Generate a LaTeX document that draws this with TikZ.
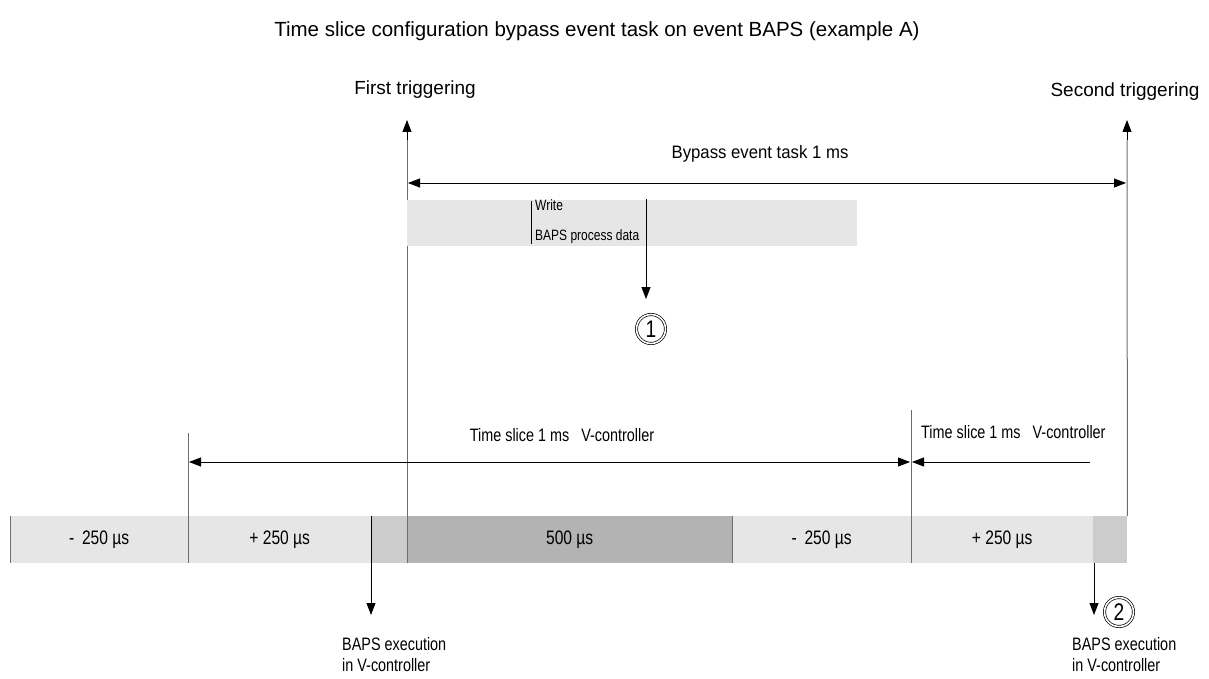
\documentclass[tikz,border=0pt]{standalone}
\usepackage{fontspec}
\setmainfont{Liberation Sans}
\newfontfamily\condfont[FakeStretch=0.8]{Liberation Sans}
\newfontfamily\semicondfont[FakeStretch=0.93]{Liberation Sans}
\usetikzlibrary{arrows.meta}
\definecolor{segLight}{HTML}{E6E6E6}
\definecolor{segMid}{HTML}{CCCCCC}
\definecolor{segDark}{HTML}{B3B3B3}
\definecolor{guide}{HTML}{6E6E6E}
\tikzset{
  seg/.style={draw=none, minimum height=47pt, inner sep=0pt, anchor=north west,
    font=\condfont\fontsize{19.5}{19.5}\selectfont},
  lbl/.style={inner sep=0pt, font=\condfont\fontsize{18}{18}\selectfont},
  small/.style={inner sep=0pt, align=left, font=\condfont\fontsize{18}{21}\selectfont},
  guideline/.style={draw=guide, line width=1pt},
  tip/.style={-{Triangle[length=12pt,width=9pt]}},
  tips/.style={{Triangle[length=12pt,width=9pt]}-{Triangle[length=12pt,width=9pt]}},
  arr/.style={draw=black, line width=0.8pt},
  circled/.style={circle, draw, double, double distance=1.6pt, line width=0.7pt,
    minimum size=29pt, inner sep=0pt, font=\condfont\fontsize{24}{24}\selectfont},
}
\begin{document}
\begin{tikzpicture}[x=1pt,y=-1pt]
\useasboundingbox (0,0) rectangle (1209,679);

% title and trigger labels
\node[inner sep=0pt, anchor=base, font=\fontsize{20.5}{20.5}\selectfont] (title) at (597,37) {Time slice configuration bypass event task on event BAPS (example A)};
\node[inner sep=0pt, anchor=base, font=\fontsize{19}{19}\selectfont] (first) at (415,95) {First triggering};
\node[inner sep=0pt, anchor=base, font=\fontsize{19}{19}\selectfont] (second) at (1125,97) {Second triggering};

% the bar of time segments
\node[seg, fill=segLight, minimum width=178pt] (s1) at (10,516) {-\, 250 µs};
\node[seg, fill=segLight, minimum width=183pt] (s2) at (188,516) {+ 250 µs};
\node[seg, fill=segMid, minimum width=36pt] (s3) at (371,516) {};
\node[seg, fill=segDark, minimum width=325pt] (s4) at (407,516) {500 µs};
\node[seg, fill=segLight, minimum width=179pt] (s5) at (732,516) {-\, 250 µs};
\node[seg, fill=segLight, minimum width=182pt] (s6) at (911,516) {+ 250 µs};
\node[seg, fill=segMid, minimum width=34pt] (s7) at (1093,516) {};

% segment boundaries
\draw[guideline] (s1.north west) -- (s1.south west);
\draw[guideline] (s4.north east) -- (s4.south east);
\coordinate (ts1top) at (188,433);
\coordinate (ts2top) at (911,410);
\draw[guideline] (ts1top) -- (s2.south west);
\draw[guideline] (ts2top) -- (s6.south west);

% triggering lines
\coordinate (trig1) at (407,120);
\coordinate (trig2) at (1127,120);
\coordinate (trig1low) at (407,140);
\coordinate (trig2low) at (1127,140);
\draw[guideline] (s4.south west) -- (trig1low);
\draw[guideline] (s7.north east) -- (trig2low);
\draw[arr, tip] (trig1low) -- (trig1);
\draw[arr, tip] (trig2low) -- (trig2);

% bypass event task span
\coordinate (bpL) at (408,183);
\coordinate (bpR) at (1126,183);
\draw[arr, tips] (bpL) -- (bpR);
\node[inner sep=0pt, font=\semicondfont\fontsize{18}{18}\selectfont] (bptext) at (760,154) {Bypass event task 1 ms};

% write band
\node[draw=none, fill=segLight, minimum width=450pt, minimum height=46pt, inner sep=0pt, anchor=north west] (band) at (407,200) {};
\coordinate (wl1) at (531,201);
\coordinate (wl2) at (531,244);
\draw[line width=0.8pt] (wl1) -- (wl2);
\node[inner sep=0pt, anchor=base west, font=\condfont\fontsize{15}{15}\selectfont] (write1) at (535,211) {Write};
\node[inner sep=0pt, anchor=base west, font=\condfont\fontsize{15}{15}\selectfont] (write2) at (535,240) {BAPS process data};

% marker 1
\node[circled] (c1) at (651,329) {1};
\coordinate (w1) at (646,199);
\coordinate (w1end) at (646,299);
\draw[arr, tip] (w1) -- (w1end);

% time slice spans
\coordinate (tsL) at (189,462);
\coordinate (tsR) at (910,462);
\draw[arr, tips] (tsL) -- (tsR);
\node[lbl, anchor=base] (tstext1) at (562,441) {Time slice 1 ms \ \ V-controller};
\coordinate (ts2start) at (1090,462);
\coordinate (ts2end) at (912,462);
\draw[arr, tip] (ts2start) -- (ts2end);
\node[lbl, anchor=base west] (tstext2) at (921,438) {Time slice 1 ms \ \ V-controller};

% BAPS execution markers
\coordinate (ex1) at (371,615);
\draw[arr, tip] (s3.north west) -- (ex1);
\node[small, anchor=north west] (exec1) at (342,637) {BAPS execution\\in V-controller};
\coordinate (ex2top) at (1094,563);
\coordinate (ex2) at (1094,615);
\draw[arr, tip] (ex2top) -- (ex2);
\node[circled] (c2) at (1119,612) {2};
\node[small, anchor=north west] (exec2) at (1072,637) {BAPS execution\\in V-controller};
\end{tikzpicture}
\end{document}
